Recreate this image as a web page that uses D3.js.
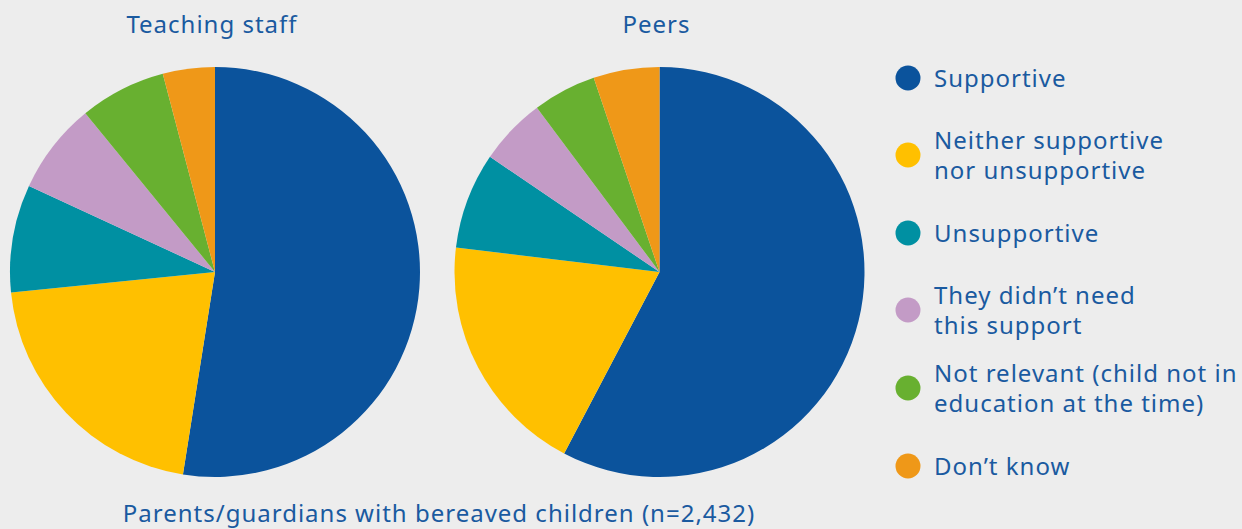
<!DOCTYPE html>
<html>
<head>
<meta charset="utf-8">
<script src="https://cdn.jsdelivr.net/npm/d3@7"></script>
<style>
  html, body { margin: 0; padding: 0; background: #ededed; }
  svg { display: block; }
  text { font-family: "Noto Sans", sans-serif; fill: #1a5aa0; letter-spacing: 1px; }
</style>
</head>
<body>
<svg id="chart" width="1242" height="529"></svg>
<script>
// Response categories (legend order and slice order, clockwise from 12 o'clock)
const categories = [
  "Supportive",
  "Neither supportive nor unsupportive",
  "Unsupportive",
  "They didn\u2019t need this support",
  "Not relevant (child not in education at the time)",
  "Don\u2019t know"
];
// Legend text split across lines
const legendLines = [
  ["Supportive"],
  ["Neither supportive", "nor unsupportive"],
  ["Unsupportive"],
  ["They didn\u2019t need", "this support"],
  ["Not relevant (child not in", "education at the time)"],
  ["Don\u2019t know"]
];
const colors = ["#0b539c", "#ffc000", "#0090a2", "#c39bc6", "#68b030", "#ef9818"];

// Percentage of parents/guardians per response
const teachingStaff = [52.5, 20.9, 8.5, 7.2, 6.8, 4.1];
const peers = [57.7, 19.2, 7.6, 5.3, 5.0, 5.2];

const pieTitles = ["Teaching staff", "Peers"];
const caption = "Parents/guardians with bereaved children (n=2,432)";

const svg = d3.select("#chart");
const color = d3.scaleOrdinal().domain(categories).range(colors);

const pie = d3.pie().sort(null).value(d => d.value);
const radius = 205;
const arc = d3.arc().innerRadius(0).outerRadius(radius);

const pies = [
  { title: pieTitles[0], values: teachingStaff, cx: 215, cy: 272 },
  { title: pieTitles[1], values: peers, cx: 659.5, cy: 272 }
];

pies.forEach(p => {
  const g = svg.append("g").attr("transform", `translate(${p.cx},${p.cy})`);
  const data = categories.map((c, i) => ({ category: c, value: p.values[i] }));
  g.selectAll("path")
    .data(pie(data))
    .join("path")
    .attr("d", arc)
    .attr("fill", d => color(d.data.category));
  svg.append("text")
    .attr("x", p.cx - 3)
    .attr("y", 33)
    .attr("text-anchor", "middle")
    .attr("font-size", 24)
    .text(p.title);
});

// Legend
const legendY = [78, 155, 233, 310, 388, 466];
const legend = svg.append("g");
categories.forEach((c, i) => {
  const item = legend.append("g").attr("transform", `translate(908,${legendY[i]})`);
  item.append("circle").attr("r", 12.5).attr("fill", color(c));
  const lines = legendLines[i];
  const lh = 30;
  const t = item.append("text")
    .attr("x", 26)
    .attr("font-size", 24);
  lines.forEach((l, j) => {
    t.append("tspan")
      .attr("x", 26)
      .attr("y", (j - (lines.length - 1) / 2) * lh + 8.5)
      .text(l);
  });
});

svg.append("text")
  .attr("x", 439)
  .attr("y", 522)
  .attr("text-anchor", "middle")
  .attr("font-size", 24)
  .text(caption);
</script>
</body>
</html>
